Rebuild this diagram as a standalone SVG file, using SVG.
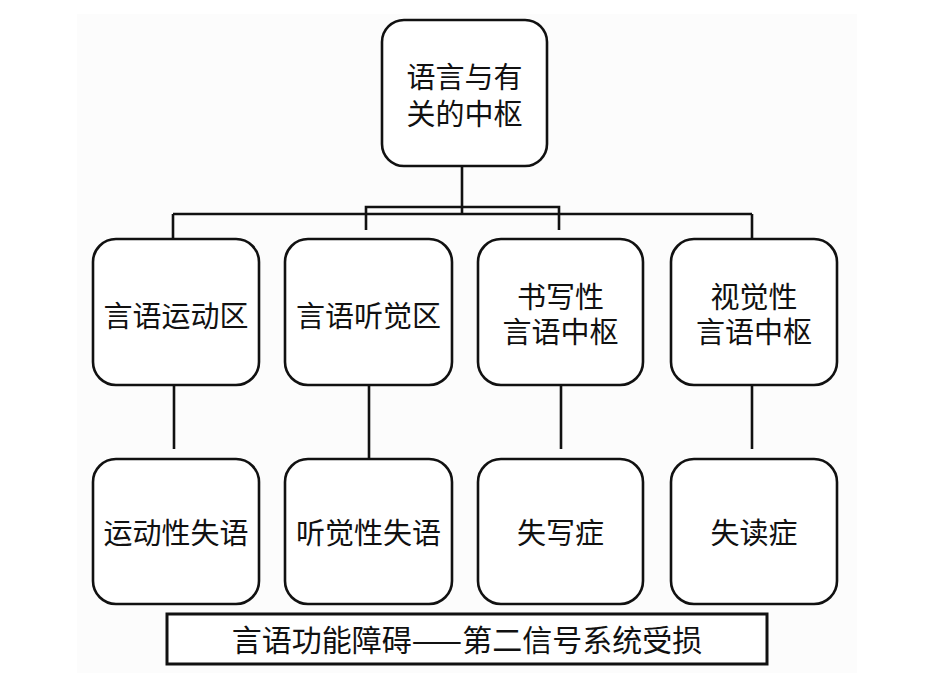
<svg xmlns="http://www.w3.org/2000/svg" width="932" height="673" viewBox="0 0 932 673">
<style>
.box{fill:#ffffff;stroke:#111111;stroke-width:2.6}
.ban{fill:#ffffff;stroke:#111111;stroke-width:3}
.ln{fill:none;stroke:#111111;stroke-width:2.6}
text{font-family:"Noto Sans CJK SC","Noto Sans",sans-serif;font-size:29px;fill:#111111;text-anchor:middle}
</style>
<rect x="0" y="0" width="932" height="673" fill="#ffffff"/>
<rect x="77" y="14" width="780" height="659" fill="#fcfcfc"/>
<g id="connectors">
<path class="ln" d="M462 166V214M173 214H752M173 214V239M752 214V239M366 230V207H559V230"/>
<path class="ln" d="M174 385V449M369 385V459M561 385V449M752 385V449"/>
</g>
<g id="n0"><rect class="box" x="382" y="20" width="165" height="146" rx="22"/><text x="464.5" y="88">语言与有<tspan x="464.5" y="125">关的中枢</tspan></text></g>
<g id="n1"><rect class="box" x="93" y="239" width="166" height="146" rx="23"/><text x="176" y="327">言语运动区</text></g>
<g id="n2"><rect class="box" x="285" y="239" width="167" height="146" rx="23"/><text x="368.5" y="327">言语听觉区</text></g>
<g id="n3"><rect class="box" x="478" y="239" width="165" height="146" rx="23"/><text x="560.5" y="308">书写性<tspan x="560.5" y="343">言语中枢</tspan></text></g>
<g id="n4"><rect class="box" x="671" y="239" width="166" height="146" rx="23"/><text x="754" y="308">视觉性<tspan x="754" y="343">言语中枢</tspan></text></g>
<g id="n5"><rect class="box" x="93" y="459" width="166" height="145" rx="23"/><text x="176" y="544">运动性失语</text></g>
<g id="n6"><rect class="box" x="285" y="459" width="167" height="145" rx="23"/><text x="368.5" y="544">听觉性失语</text></g>
<g id="n7"><rect class="box" x="478" y="459" width="165" height="145" rx="23"/><text x="560.5" y="544">失写症</text></g>
<g id="n8"><rect class="box" x="671" y="459" width="166" height="145" rx="23"/><text x="754" y="544">失读症</text></g>
<g id="banner"><rect class="ban" x="167" y="614" width="600" height="50"/><text x="467" y="651" style="font-size:30px">言语功能障碍——第二信号系统受损</text></g>
</svg>
